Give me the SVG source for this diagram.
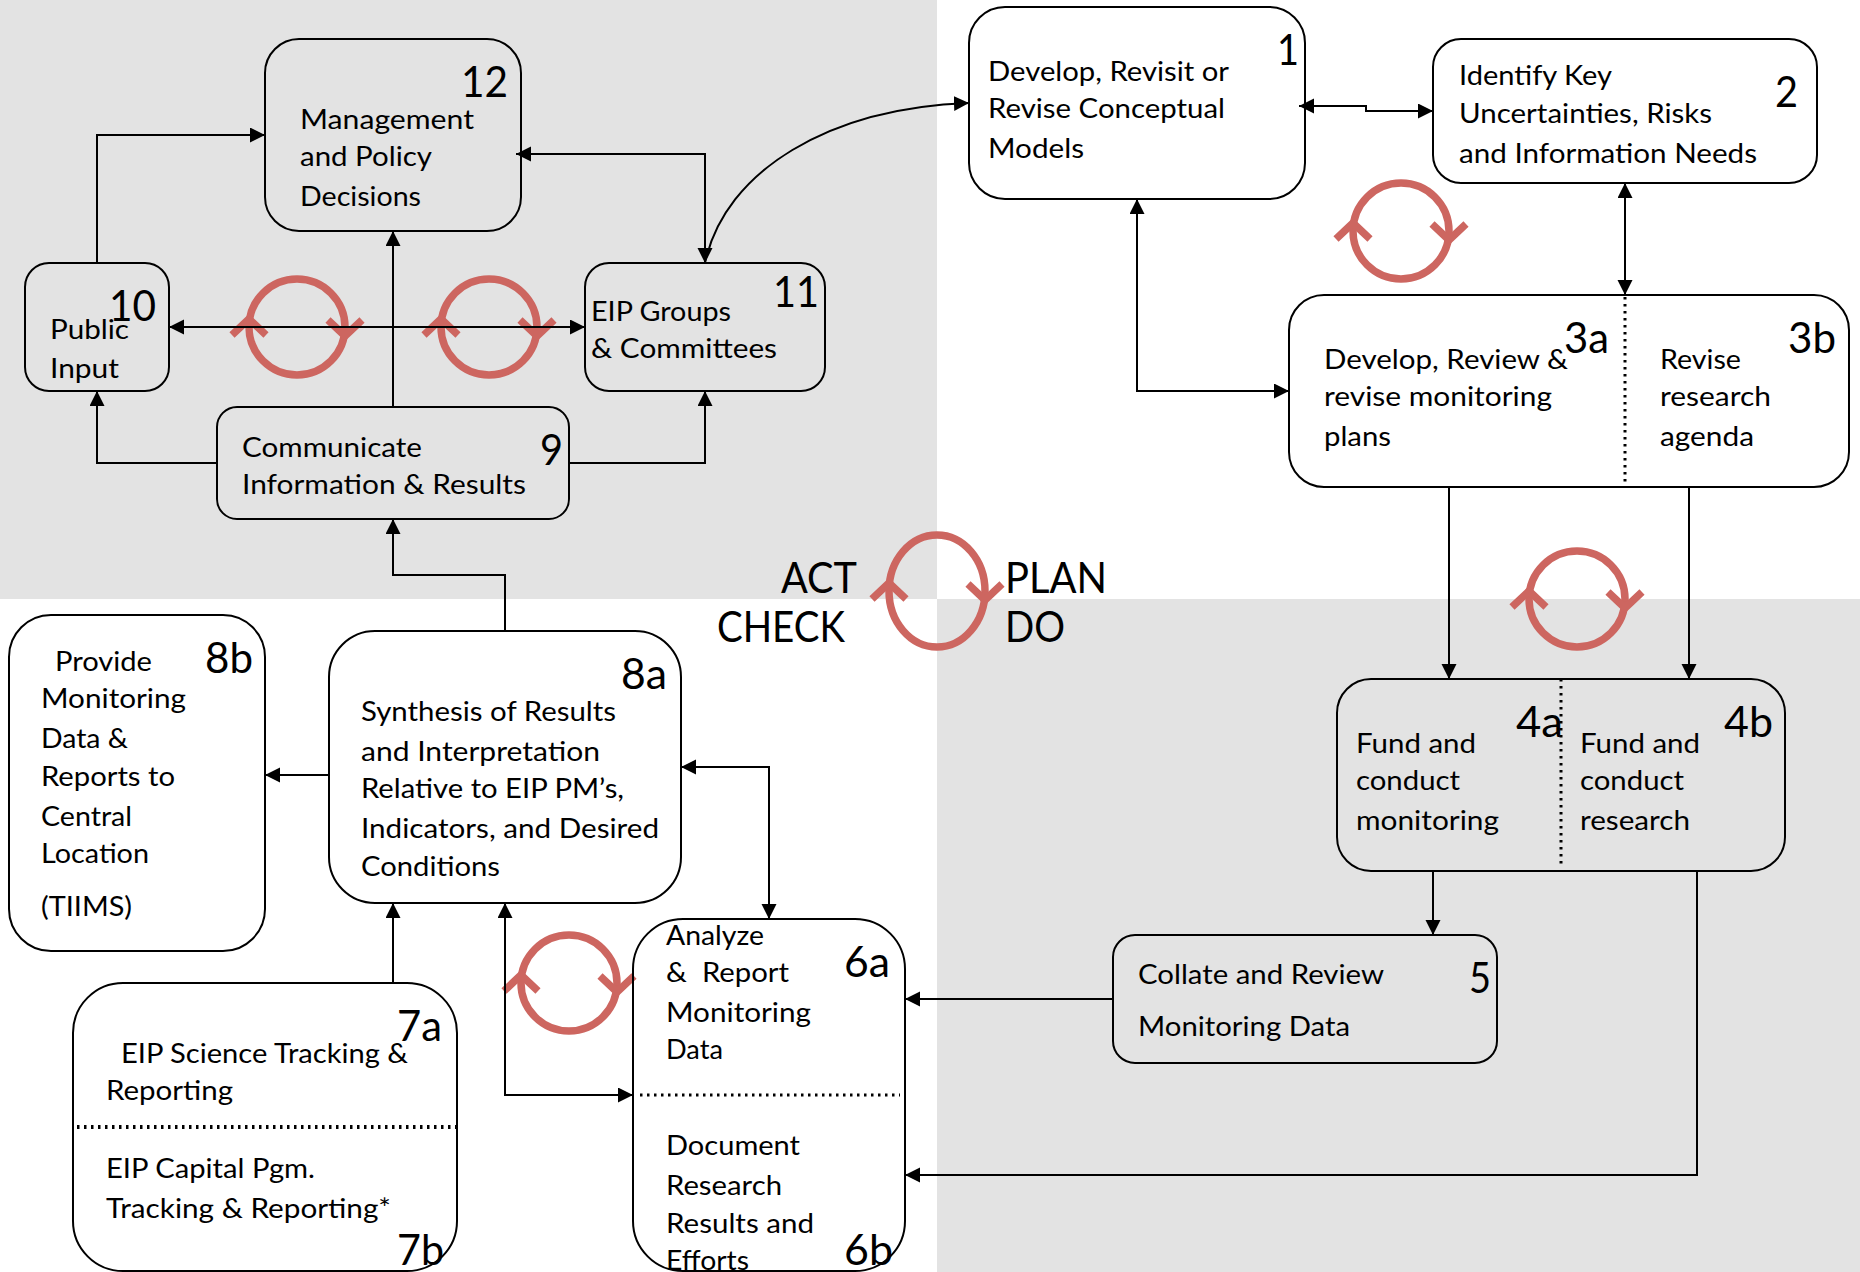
<svg xmlns="http://www.w3.org/2000/svg" width="1860" height="1272" viewBox="0 0 1860 1272">
<style>
.box{fill:none;stroke:#000;stroke-width:2}
.c{fill:none;stroke:#000;stroke-width:2;marker-end:url(#a)}
.d{marker-start:url(#a)}
.dot{fill:none;stroke:#000;stroke-width:3;stroke-dasharray:2.5 4.5}
.t{font-family:Lato,"Open Sans",sans-serif;font-size:27px;fill:#000;transform:translateX(-1px)}
.n{font-family:Lato,"Open Sans",sans-serif;font-size:43px;fill:#000;transform:translate(0,1px)}
.r{fill:none;stroke:#cd6660;stroke-width:7.5}
</style>
<defs>
<marker id="a" markerUnits="userSpaceOnUse" markerWidth="16" markerHeight="16" refX="15" refY="7.5" orient="auto-start-reverse"><path d="M0,0L15,7.5L0,15z" fill="#000"/></marker>
<g id="chev"><path class="r" d="M-65,8L-48,-8L-31,8M31,-7L48,9L65,-7"/></g>
</defs>
<rect width="1860" height="1272" fill="#fff"/>
<rect x="0" y="0" width="937" height="599" fill="#e3e3e3"/>
<rect x="937" y="599" width="923" height="673" fill="#e3e3e3"/>
<g id="cycles">
<g transform="translate(297,327)"><circle class="r" r="48"/><use href="#chev"/></g>
<g transform="translate(489,327)"><circle class="r" r="48"/><use href="#chev"/></g>
<g transform="translate(1401,231)"><circle class="r" r="48"/><use href="#chev"/></g>
<g transform="translate(1577,599)"><circle class="r" r="48"/><use href="#chev"/></g>
<g transform="translate(937,591)"><ellipse class="r" rx="48" ry="56"/><use href="#chev"/></g>
<g transform="translate(569,983)"><circle class="r" r="48"/><use href="#chev"/></g>
</g>
<g id="phase-labels">
<text class="n" x="781" y="592" textLength="76" lengthAdjust="spacingAndGlyphs">ACT</text>
<text class="n" x="717" y="641" textLength="128" lengthAdjust="spacingAndGlyphs">CHECK</text>
<text class="n" x="1005" y="592" textLength="102" lengthAdjust="spacingAndGlyphs">PLAN</text>
<text class="n" x="1005" y="641" textLength="60" lengthAdjust="spacingAndGlyphs">DO</text>
</g>
<g id="node-12"><rect class="box" x="265" y="39" width="256" height="192" rx="34"/>
<text class="n" x="461" y="96" textLength="47" lengthAdjust="spacingAndGlyphs">12</text>
<text class="t" x="301" y="129" textLength="174" lengthAdjust="spacingAndGlyphs">Management</text>
<text class="t" x="301" y="166" textLength="132" lengthAdjust="spacingAndGlyphs">and Policy</text>
<text class="t" x="301" y="206" textLength="121" lengthAdjust="spacingAndGlyphs">Decisions</text></g>
<g id="node-10"><rect class="box" x="25" y="263" width="144" height="128" rx="24"/>
<text class="t" x="51" y="339" textLength="79" lengthAdjust="spacingAndGlyphs">Public</text>
<text class="t" x="51" y="378" textLength="69" lengthAdjust="spacingAndGlyphs">Input</text>
<text class="n" x="109" y="320" textLength="47" lengthAdjust="spacingAndGlyphs">10</text></g>
<g id="node-11"><rect class="box" x="585" y="263" width="240" height="128" rx="24"/>
<text class="n" x="773" y="306" textLength="46" lengthAdjust="spacingAndGlyphs">11</text>
<text class="t" x="592" y="321" textLength="140" lengthAdjust="spacingAndGlyphs">EIP Groups</text>
<text class="t" x="592" y="358" textLength="186" lengthAdjust="spacingAndGlyphs">&amp; Committees</text></g>
<g id="node-9"><rect class="box" x="217" y="407" width="352" height="112" rx="20"/>
<text class="n" x="540" y="464" textLength="23" lengthAdjust="spacingAndGlyphs">9</text>
<text class="t" x="243" y="457" textLength="180" lengthAdjust="spacingAndGlyphs">Communicate</text>
<text class="t" x="243" y="494" textLength="284" lengthAdjust="spacingAndGlyphs">Information &amp; Results</text></g>
<g id="node-1"><rect class="box" x="969" y="7" width="336" height="192" rx="36"/>
<text class="n" x="1277" y="64" textLength="22" lengthAdjust="spacingAndGlyphs">1</text>
<text class="t" x="989" y="81" textLength="241" lengthAdjust="spacingAndGlyphs">Develop, Revisit or</text>
<text class="t" x="989" y="118" textLength="237" lengthAdjust="spacingAndGlyphs">Revise Conceptual</text>
<text class="t" x="989" y="158" textLength="96" lengthAdjust="spacingAndGlyphs">Models</text></g>
<g id="node-2"><rect class="box" x="1433" y="39" width="384" height="144" rx="28"/>
<text class="n" x="1775" y="106" textLength="23" lengthAdjust="spacingAndGlyphs">2</text>
<text class="t" x="1460" y="85" textLength="153" lengthAdjust="spacingAndGlyphs">Identify Key</text>
<text class="t" x="1460" y="123" textLength="253" lengthAdjust="spacingAndGlyphs">Uncertainties, Risks</text>
<text class="t" x="1460" y="163" textLength="298" lengthAdjust="spacingAndGlyphs">and Information Needs</text></g>
<g id="node-3"><rect class="box" x="1289" y="295" width="560" height="192" rx="35"/>
<path class="dot" d="M1625,297V483"/>
<text class="t" x="1325" y="369" textLength="244" lengthAdjust="spacingAndGlyphs">Develop, Review &amp;</text>
<text class="t" x="1325" y="406" textLength="228" lengthAdjust="spacingAndGlyphs">revise monitoring</text>
<text class="t" x="1325" y="446" textLength="67" lengthAdjust="spacingAndGlyphs">plans</text>
<text class="n" x="1564" y="352" textLength="45" lengthAdjust="spacingAndGlyphs">3a</text>
<text class="n" x="1788" y="352" textLength="48" lengthAdjust="spacingAndGlyphs">3b</text>
<text class="t" x="1661" y="369" textLength="81" lengthAdjust="spacingAndGlyphs">Revise</text>
<text class="t" x="1661" y="406" textLength="111" lengthAdjust="spacingAndGlyphs">research</text>
<text class="t" x="1661" y="446" textLength="94" lengthAdjust="spacingAndGlyphs">agenda</text></g>
<g id="node-4"><rect class="box" x="1337" y="679" width="448" height="192" rx="34"/>
<path class="dot" d="M1561,679V866"/>
<text class="n" x="1516" y="736" textLength="47" lengthAdjust="spacingAndGlyphs">4a</text>
<text class="n" x="1724" y="736" textLength="49" lengthAdjust="spacingAndGlyphs">4b</text>
<text class="t" x="1357" y="753" textLength="120" lengthAdjust="spacingAndGlyphs">Fund and</text>
<text class="t" x="1357" y="790" textLength="104" lengthAdjust="spacingAndGlyphs">conduct</text>
<text class="t" x="1357" y="830" textLength="143" lengthAdjust="spacingAndGlyphs">monitoring</text>
<text class="t" x="1581" y="753" textLength="120" lengthAdjust="spacingAndGlyphs">Fund and</text>
<text class="t" x="1581" y="790" textLength="104" lengthAdjust="spacingAndGlyphs">conduct</text>
<text class="t" x="1581" y="830" textLength="110" lengthAdjust="spacingAndGlyphs">research</text></g>
<g id="node-5"><rect class="box" x="1113" y="935" width="384" height="128" rx="22"/>
<text class="n" x="1469" y="992" textLength="22" lengthAdjust="spacingAndGlyphs">5</text>
<text class="t" x="1139" y="984" textLength="246" lengthAdjust="spacingAndGlyphs">Collate and Review</text>
<text class="t" x="1139" y="1036" textLength="212" lengthAdjust="spacingAndGlyphs">Monitoring Data</text></g>
<g id="node-8b"><rect class="box" x="9" y="615" width="256" height="336" rx="42"/>
<text class="n" x="205" y="672" textLength="48" lengthAdjust="spacingAndGlyphs">8b</text>
<text class="t" x="56" y="671" textLength="97" lengthAdjust="spacingAndGlyphs">Provide</text>
<text class="t" x="42" y="708" textLength="145" lengthAdjust="spacingAndGlyphs">Monitoring</text>
<text class="t" x="42" y="748" textLength="87" lengthAdjust="spacingAndGlyphs">Data &amp;</text>
<text class="t" x="42" y="786" textLength="134" lengthAdjust="spacingAndGlyphs">Reports to</text>
<text class="t" x="42" y="826" textLength="91" lengthAdjust="spacingAndGlyphs">Central</text>
<text class="t" x="42" y="863" textLength="108" lengthAdjust="spacingAndGlyphs">Location</text>
<text class="t" x="42" y="916" textLength="91" lengthAdjust="spacingAndGlyphs">(TIIMS)</text></g>
<g id="node-8a"><rect class="box" x="329" y="631" width="352" height="272" rx="46"/>
<text class="n" x="621" y="688" textLength="46" lengthAdjust="spacingAndGlyphs">8a</text>
<text class="t" x="362" y="721" textLength="255" lengthAdjust="spacingAndGlyphs">Synthesis of Results</text>
<text class="t" x="362" y="761" textLength="239" lengthAdjust="spacingAndGlyphs">and Interpretation</text>
<text class="t" x="362" y="798" textLength="263" lengthAdjust="spacingAndGlyphs">Relative to EIP PM’s,</text>
<text class="t" x="362" y="838" textLength="298" lengthAdjust="spacingAndGlyphs">Indicators, and Desired</text>
<text class="t" x="362" y="876" textLength="139" lengthAdjust="spacingAndGlyphs">Conditions</text></g>
<g id="node-7"><rect class="box" x="73" y="983" width="384" height="288" rx="50"/>
<path class="dot" d="M77,1127H457" style="stroke-width:4"/>
<text class="t" x="122" y="1063" textLength="287" lengthAdjust="spacingAndGlyphs">EIP Science Tracking &amp;</text>
<text class="t" x="107" y="1100" textLength="127" lengthAdjust="spacingAndGlyphs">Reporting</text>
<text class="t" x="107" y="1178" textLength="209" lengthAdjust="spacingAndGlyphs">EIP Capital Pgm.</text>
<text class="t" x="107" y="1218" textLength="285" lengthAdjust="spacingAndGlyphs">Tracking &amp; Reporting*</text>
<text class="n" x="397" y="1040" textLength="45" lengthAdjust="spacingAndGlyphs">7a</text>
<text class="n" x="397" y="1264" textLength="47" lengthAdjust="spacingAndGlyphs">7b</text></g>
<g id="node-6"><rect class="box" x="633" y="919" width="272" height="352" rx="50"/>
<path class="dot" d="M640,1095H900"/>
<text class="t" x="667" y="945" textLength="98" lengthAdjust="spacingAndGlyphs">Analyze</text>
<text class="t" x="667" y="982" textLength="123" lengthAdjust="spacingAndGlyphs" xml:space="preserve">&amp;  Report</text>
<text class="t" x="667" y="1022" textLength="145" lengthAdjust="spacingAndGlyphs">Monitoring</text>
<text class="t" x="667" y="1059" textLength="57" lengthAdjust="spacingAndGlyphs">Data</text>
<text class="t" x="667" y="1155" textLength="134" lengthAdjust="spacingAndGlyphs">Document</text>
<text class="t" x="667" y="1195" textLength="116" lengthAdjust="spacingAndGlyphs">Research</text>
<text class="t" x="667" y="1233" textLength="148" lengthAdjust="spacingAndGlyphs">Results and</text>
<text class="t" x="667" y="1270" textLength="83" lengthAdjust="spacingAndGlyphs">Efforts</text>
<text class="n" x="844" y="976" textLength="46" lengthAdjust="spacingAndGlyphs">6a</text>
<text class="n" x="844" y="1264" textLength="49" lengthAdjust="spacingAndGlyphs">6b</text></g>
<g id="connectors">
<path class="c" d="M97,263V135H265"/>
<path class="c d" d="M516,154H705V263"/>
<path class="c d" d="M169,327H585"/>
<path class="c" d="M393,407V231"/>
<path class="c" d="M217,463H97V391"/>
<path class="c" d="M569,463H705V391"/>
<path class="c" d="M505,631V575H393V519"/>
<path class="c" d="M705,263C725,170 830,108 969,103"/>
<path class="c d" d="M1299,106H1366V111H1433"/>
<path class="c d" d="M1625,183V295"/>
<path class="c d" d="M1137,199V391H1289"/>
<path class="c" d="M1449,487V679"/>
<path class="c" d="M1689,487V679"/>
<path class="c" d="M1433,871V935"/>
<path class="c" d="M1113,999H905"/>
<path class="c" d="M1697,871V1175H905"/>
<path class="c" d="M329,775H265"/>
<path class="c d" d="M681,767H769V919"/>
<path class="c" d="M393,983V903"/>
<path class="c d" d="M505,903V1095H633"/>
</g>
</svg>
